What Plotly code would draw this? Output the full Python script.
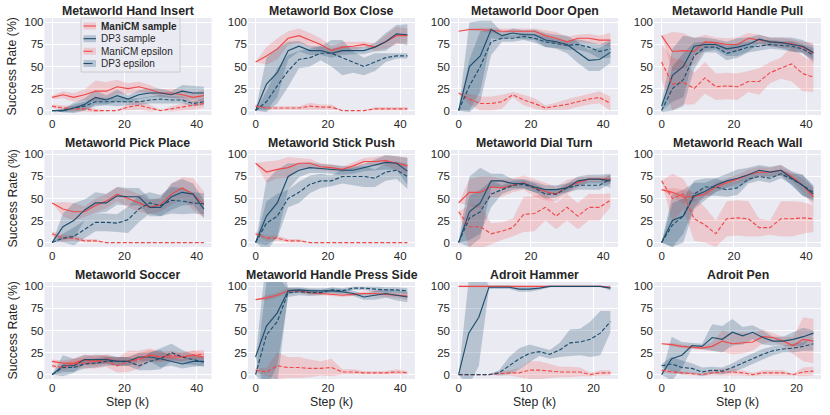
import plotly.graph_objects as go

# ---------------- data ----------------
SERIES = ["ManiCM sample", "DP3 sample", "ManiCM epsilon", "DP3 epsilon"]
steps_mw = [0, 3, 6, 9, 12, 15, 18, 21, 24, 27, 30, 33, 36, 39, 42]
steps_ad = [0, 1.5, 3, 4.5, 6, 7.5, 9, 10.5, 12, 13.5, 15, 16.5, 18, 19.5, 21, 22.5]
y_ticks = [0, 25, 50, 75, 100]

hand_insert = {
    "ManiCM sample": [15, 18, 15, 18, 22, 22, 27, 25, 27, 24, 20, 20, 18, 15, 17],
    "DP3 sample": [0, 0, 3, 7, 15, 12, 17, 13, 18, 20, 20, 18, 22, 20, 20],
    "ManiCM epsilon": [5, 3, 2, 2, 0, 0, 0, 4, 6, 3, 0, 2, 4, 6, 8],
    "DP3 epsilon": [0, 0, 3, 5, 10, 10, 10, 10, 10, 12, 13, 12, 12, 8, 10],
}
hand_insert_sd = {
    "ManiCM sample": [2, 4, 5, 6, 12, 10, 8, 6, 6, 5, 4, 5, 6, 5, 6],
    "DP3 sample": [0, 2, 6, 7, 8, 5, 7, 4, 5, 5, 5, 4, 7, 8, 7],
    "ManiCM epsilon": [2, 3, 3, 3, 2, 0, 0, 4, 5, 4, 0, 3, 4, 5, 5],
    "DP3 epsilon": [0, 2, 4, 5, 5, 4, 5, 4, 4, 4, 5, 4, 4, 3, 4],
}

box_close = {
    "ManiCM sample": [55, 62, 70, 82, 85, 80, 75, 68, 72, 73, 75, 72, 78, 85, 85],
    "DP3 sample": [0, 30, 43, 68, 73, 68, 68, 65, 68, 68, 68, 72, 78, 87, 86],
    "ManiCM epsilon": [5, 3, 3, 3, 3, 5, 4, 4, 0, 0, 0, 2, 2, 2, 2],
    "DP3 epsilon": [0, 10, 28, 45, 58, 60, 65, 65, 60, 55, 50, 55, 60, 62, 62],
}
box_close_sd = {
    "ManiCM sample": [0, 10, 12, 8, 8, 8, 7, 5, 6, 5, 3, 4, 8, 10, 8],
    "DP3 sample": [0, 30, 28, 10, 6, 5, 5, 5, 5, 4, 4, 5, 10, 10, 12],
    "ManiCM epsilon": [2, 2, 2, 2, 2, 4, 3, 3, 0, 0, 0, 2, 2, 2, 2],
    "DP3 epsilon": [0, 12, 20, 18, 10, 10, 8, 15, 20, 12, 10, 10, 5, 3, 3],
}

door_open = {
    "ManiCM sample": [90, 92, 92, 91, 90, 90, 90, 90, 85, 82, 78, 82, 82, 80, 80],
    "DP3 sample": [0, 50, 62, 92, 85, 88, 86, 86, 80, 78, 75, 66, 57, 58, 66],
    "ManiCM epsilon": [20, 13, 8, 8, 10, 18, 12, 8, 3, 5, 7, 10, 13, 15, 8],
    "DP3 epsilon": [0, 28, 50, 78, 82, 82, 84, 82, 78, 76, 74, 75, 72, 67, 70],
}
door_open_sd = {
    "ManiCM sample": [0, 1, 2, 3, 3, 3, 3, 3, 6, 7, 6, 4, 5, 5, 8],
    "DP3 sample": [0, 50, 40, 10, 4, 5, 5, 6, 8, 8, 10, 12, 12, 13, 12],
    "ManiCM epsilon": [0, 6, 8, 8, 8, 3, 6, 6, 3, 4, 6, 6, 6, 7, 8],
    "DP3 epsilon": [0, 30, 40, 15, 4, 4, 4, 5, 6, 5, 5, 6, 6, 8, 10],
}

handle_pull = {
    "ManiCM sample": [85, 67, 68, 67, 78, 77, 75, 75, 82, 80, 78, 77, 76, 72, 65],
    "DP3 sample": [5, 40, 50, 73, 75, 75, 70, 72, 75, 81, 78, 77, 75, 73, 66],
    "ManiCM epsilon": [55, 30, 32, 25, 37, 27, 28, 27, 33, 33, 43, 48, 53, 42, 38],
    "DP3 epsilon": [0, 25, 35, 62, 72, 72, 65, 68, 72, 73, 75, 74, 73, 70, 63],
}
handle_pull_sd = {
    "ManiCM sample": [0, 22, 20, 15, 8, 6, 7, 8, 6, 6, 5, 6, 5, 6, 12],
    "DP3 sample": [5, 30, 35, 10, 8, 6, 8, 10, 8, 5, 5, 6, 8, 7, 8],
    "ManiCM epsilon": [20, 30, 25, 18, 18, 15, 15, 15, 12, 15, 12, 12, 20, 20, 17],
    "DP3 epsilon": [2, 25, 30, 15, 6, 6, 8, 8, 6, 5, 5, 5, 6, 5, 8],
}

pick_place = {
    "ManiCM sample": [45, 38, 35, 35, 42, 47, 55, 50, 45, 40, 43, 55, 62, 55, 43],
    "DP3 sample": [0, 18, 25, 37, 45, 45, 53, 52, 52, 40, 40, 52, 57, 55, 38],
    "ManiCM epsilon": [10, 5, 5, 2, 2, 0, 0, 0, 0, 0, 0, 0, 0, 0, 0],
    "DP3 epsilon": [0, 5, 7, 15, 23, 23, 22, 26, 38, 45, 42, 48, 47, 45, 44],
}
pick_place_sd = {
    "ManiCM sample": [0, 8, 10, 6, 8, 8, 8, 10, 10, 8, 8, 12, 12, 18, 15],
    "DP3 sample": [0, 15, 20, 12, 12, 10, 10, 10, 10, 10, 10, 15, 15, 12, 10],
    "ManiCM epsilon": [3, 4, 3, 2, 2, 0, 0, 0, 0, 0, 0, 0, 0, 0, 0],
    "DP3 epsilon": [0, 5, 10, 10, 10, 10, 10, 15, 15, 12, 12, 15, 15, 12, 12],
}

stick_push = {
    "ManiCM sample": [90, 80, 83, 85, 90, 90, 86, 85, 83, 87, 92, 92, 93, 90, 87],
    "DP3 sample": [0, 30, 45, 75, 82, 85, 84, 83, 82, 82, 85, 88, 91, 90, 81],
    "ManiCM epsilon": [10, 5, 5, 2, 2, 0, 0, 0, 0, 0, 0, 0, 0, 0, 0],
    "DP3 epsilon": [0, 22, 30, 50, 57, 66, 70, 70, 75, 75, 75, 73, 80, 82, 75],
}
stick_push_sd = {
    "ManiCM sample": [0, 12, 10, 12, 6, 5, 4, 4, 3, 4, 4, 5, 6, 8, 10],
    "DP3 sample": [0, 40, 38, 15, 8, 6, 5, 5, 5, 4, 4, 6, 8, 8, 15],
    "ManiCM epsilon": [2, 3, 3, 2, 2, 0, 0, 0, 0, 0, 0, 0, 0, 0, 0],
    "DP3 epsilon": [0, 25, 25, 10, 12, 10, 8, 6, 8, 10, 12, 10, 10, 10, 14],
}

dial_turn = {
    "ManiCM sample": [45, 57, 57, 63, 62, 65, 68, 62, 58, 55, 63, 68, 72, 72, 72],
    "DP3 sample": [0, 35, 45, 70, 70, 67, 67, 63, 60, 60, 62, 70, 72, 72, 70],
    "ManiCM epsilon": [35, 18, 18, 10, 13, 17, 32, 33, 40, 30, 40, 30, 40, 40, 48],
    "DP3 epsilon": [0, 28, 35, 55, 60, 65, 66, 62, 55, 55, 62, 65, 65, 65, 72],
}
dial_turn_sd = {
    "ManiCM sample": [0, 15, 18, 12, 10, 8, 8, 10, 10, 8, 8, 6, 3, 3, 5],
    "DP3 sample": [0, 40, 40, 8, 8, 5, 5, 6, 5, 5, 5, 5, 5, 5, 8],
    "ManiCM epsilon": [0, 25, 25, 12, 10, 10, 20, 20, 15, 15, 15, 15, 15, 15, 8],
    "DP3 epsilon": [0, 25, 25, 15, 5, 5, 5, 5, 5, 4, 5, 5, 5, 5, 5],
}

reach_wall = {
    "ManiCM sample": [60, 57, 52, 52, 55, 63, 68, 72, 77, 80, 80, 82, 75, 65, 52],
    "DP3 sample": [0, 25, 30, 53, 58, 65, 70, 73, 77, 82, 80, 82, 73, 65, 55],
    "ManiCM epsilon": [70, 50, 55, 27, 20, 10, 27, 28, 27, 17, 17, 27, 27, 28, 27],
    "DP3 epsilon": [0, 20, 30, 55, 63, 63, 60, 62, 72, 75, 73, 78, 72, 65, 57],
}
reach_wall_sd = {
    "ManiCM sample": [0, 5, 8, 5, 5, 5, 5, 5, 6, 6, 5, 6, 5, 8, 10],
    "DP3 sample": [0, 30, 30, 15, 10, 8, 8, 10, 8, 6, 6, 6, 8, 12, 8],
    "ManiCM epsilon": [0, 28, 17, 25, 20, 15, 20, 20, 20, 10, 8, 20, 20, 18, 15],
    "DP3 epsilon": [0, 25, 20, 15, 10, 10, 8, 8, 5, 5, 5, 5, 6, 12, 8],
}

soccer = {
    "ManiCM sample": [15, 13, 13, 17, 15, 18, 15, 15, 18, 22, 20, 20, 20, 22, 20],
    "DP3 sample": [0, 10, 10, 17, 17, 17, 15, 15, 20, 20, 18, 15, 12, 15, 15],
    "ManiCM epsilon": [10, 8, 13, 13, 15, 15, 10, 15, 17, 22, 20, 22, 20, 22, 23],
    "DP3 epsilon": [0, 8, 8, 12, 13, 15, 15, 15, 10, 15, 18, 25, 20, 17, 14],
}
soccer_sd = {
    "ManiCM sample": [2, 3, 5, 6, 5, 5, 5, 5, 6, 6, 5, 5, 5, 5, 5],
    "DP3 sample": [0, 12, 8, 5, 5, 5, 5, 5, 5, 5, 10, 5, 5, 6, 5],
    "ManiCM epsilon": [2, 3, 5, 6, 8, 6, 8, 12, 10, 8, 6, 5, 5, 5, 5],
    "DP3 epsilon": [0, 5, 5, 5, 5, 5, 5, 5, 5, 10, 12, 10, 8, 6, 5],
}

handle_press_side = {
    "ManiCM sample": [85, 87, 90, 95, 95, 93, 92, 91, 90, 91, 92, 92, 91, 90, 89],
    "DP3 sample": [20, 55, 70, 95, 96, 95, 95, 95, 94, 92, 88, 90, 92, 90, 88],
    "ManiCM epsilon": [5, 3, 10, 8, 8, 7, 7, 8, 3, 3, 2, 2, 2, 3, 2],
    "DP3 epsilon": [0, 45, 60, 93, 94, 93, 93, 96, 95, 98, 98, 97, 96, 96, 95],
}
handle_press_side_sd = {
    "ManiCM sample": [0, 3, 3, 3, 2, 3, 2, 2, 2, 2, 2, 3, 3, 3, 4],
    "DP3 sample": [0, 80, 80, 4, 3, 3, 3, 3, 3, 3, 3, 5, 5, 6, 6],
    "ManiCM epsilon": [2, 5, 15, 12, 12, 10, 8, 10, 3, 3, 2, 2, 2, 3, 2],
    "DP3 epsilon": [0, 60, 50, 5, 4, 4, 3, 3, 3, 2, 2, 3, 3, 3, 3],
}

adroit_hammer = {
    "ManiCM sample": [100, 100, 100, 100, 100, 100, 100, 100, 100, 100, 100, 100, 100, 100, 100, 99],
    "DP3 sample": [0, 47, 65, 99, 99, 99, 97, 97, 98, 100, 100, 100, 100, 100, 100, 98],
    "ManiCM epsilon": [0, 0, 0, 0, 1, 2, 2, 5, 5, 4, 3, 3, 3, 0, 2, 2],
    "DP3 epsilon": [0, 0, 0, 0, 2, 10, 18, 24, 26, 23, 28, 36, 37, 40, 47, 60],
}
adroit_hammer_sd = {
    "ManiCM sample": [1, 1, 1, 1, 1, 1, 1, 1, 1, 1, 1, 1, 1, 1, 1, 1],
    "DP3 sample": [0, 60, 55, 2, 2, 2, 3, 3, 2, 1, 0, 0, 0, 0, 0, 3],
    "ManiCM epsilon": [0, 0, 0, 0, 2, 3, 5, 10, 10, 8, 6, 6, 5, 2, 3, 3],
    "DP3 epsilon": [0, 0, 0, 0, 3, 10, 12, 10, 5, 5, 8, 15, 15, 20, 25, 12],
}

adroit_pen = {
    "ManiCM sample": [35, 34, 32, 31, 30, 32, 38, 35, 36, 37, 43, 42, 38, 33, 40, 38],
    "DP3 sample": [0, 18, 22, 33, 32, 42, 40, 48, 44, 48, 42, 38, 38, 40, 43, 47],
    "ManiCM epsilon": [5, 3, 2, 1, 0, 2, 3, 3, 2, 0, 2, 2, 2, 0, 3, 4],
    "DP3 epsilon": [10, 12, 8, 7, 3, 5, 4, 8, 13, 18, 23, 27, 29, 30, 32, 35],
}
adroit_pen_sd = {
    "ManiCM sample": [0, 2, 2, 2, 2, 5, 12, 12, 12, 10, 8, 5, 5, 10, 25, 25],
    "DP3 sample": [0, 25, 15, 3, 3, 15, 15, 15, 10, 8, 8, 5, 5, 8, 10, 3],
    "ManiCM epsilon": [2, 2, 2, 2, 1, 3, 4, 4, 3, 2, 3, 3, 3, 1, 5, 5],
    "DP3 epsilon": [2, 8, 8, 6, 5, 4, 4, 5, 6, 6, 6, 5, 4, 5, 5, 8],
}

TASKS = [
    ("Metaworld Hand Insert", steps_mw, hand_insert, hand_insert_sd),
    ("Metaworld Box Close", steps_mw, box_close, box_close_sd),
    ("Metaworld Door Open", steps_mw, door_open, door_open_sd),
    ("Metaworld Handle Pull", steps_mw, handle_pull, handle_pull_sd),
    ("Metaworld Pick Place", steps_mw, pick_place, pick_place_sd),
    ("Metaworld Stick Push", steps_mw, stick_push, stick_push_sd),
    ("Metaworld Dial Turn", steps_mw, dial_turn, dial_turn_sd),
    ("Metaworld Reach Wall", steps_mw, reach_wall, reach_wall_sd),
    ("Metaworld Soccer", steps_mw, soccer, soccer_sd),
    ("Metaworld Handle Press Side", steps_mw, handle_press_side, handle_press_side_sd),
    ("Adroit Hammer", steps_ad, adroit_hammer, adroit_hammer_sd),
    ("Adroit Pen", steps_ad, adroit_pen, adroit_pen_sd),
]

# ---------------- style ----------------
W, H = 830, 415


def px(x):
    return x / W


def py(y):
    return 1 - y / H


RED = "#F04848"
BLUE = "#1E4E6E"
RED_FILL = "rgba(240,72,72,0.2)"
BLUE_FILL = "rgba(30,78,110,0.25)"
DASH = "4px,2px"
STYLE = {
    "ManiCM sample": (RED, RED_FILL, "solid", "<b>ManiCM sample</b>"),
    "DP3 sample": (BLUE, BLUE_FILL, "solid", "DP3 sample"),
    "ManiCM epsilon": (RED, RED_FILL, DASH, "ManiCM epsilon"),
    "DP3 epsilon": (BLUE, BLUE_FILL, DASH, "DP3 epsilon"),
}
FONT = "Liberation Sans, Arial, sans-serif"
TXT = "#262626"
col_left = [44.5, 248, 451, 654]
col_w = 167
row_top = [18, 150, 282]
row_h = 97

fig = go.Figure()
layout = {}
annotations = []
shapes = []

for i, (title, xs, means, sds) in enumerate(TASKS):
    r, c = divmod(i, 4)
    ax = "" if i == 0 else str(i + 1)
    x0 = px(col_left[c])
    x1 = px(col_left[c] + col_w)
    y1 = py(row_top[r])
    y0 = py(row_top[r] + row_h)
    xmax = xs[-1]
    pad = xmax * 0.05
    xt = [0, 20, 40] if xmax > 30 else [0, 10, 20]
    layout["xaxis" + ax] = dict(
        domain=[x0, x1], anchor="y" + ax, range=[-pad, xmax + pad],
        tickvals=xt, showgrid=True, gridcolor="white", gridwidth=1,
        zeroline=False, showline=False, ticks="", automargin=False,
        tickfont=dict(size=11.5, color=TXT, family=FONT),
    )
    layout["yaxis" + ax] = dict(
        domain=[y0, y1], anchor="x" + ax, range=[-5, 105],
        tickvals=y_ticks, showgrid=True, gridcolor="white", gridwidth=1,
        zeroline=False, showline=False, ticks="", automargin=False,
        tickfont=dict(size=11.5, color=TXT, family=FONT),
    )
    for s in SERIES:
        col, fill, dash, label = STYLE[s]
        m = means[s]
        sd = sds[s]
        up = [a + b for a, b in zip(m, sd)]
        lo = [a - b for a, b in zip(m, sd)]
        fig.add_trace(go.Scatter(
            x=list(xs) + list(xs)[::-1], y=up + lo[::-1],
            fill="toself", fillcolor=fill, line=dict(width=0),
            mode="lines", hoverinfo="skip", showlegend=False,
            xaxis="x" + ax, yaxis="y" + ax,
        ))
    for s in SERIES:
        col, fill, dash, label = STYLE[s]
        fig.add_trace(go.Scatter(
            x=xs, y=means[s], mode="lines",
            line=dict(color=col, width=1.15, dash=dash),
            name=s, showlegend=False,
            xaxis="x" + ax, yaxis="y" + ax,
        ))
    annotations.append(dict(
        text="<b>" + title + "</b>", x=(x0 + x1) / 2, y=py(row_top[r] - 7.5),
        xref="paper", yref="paper", xanchor="center", yanchor="middle",
        showarrow=False, font=dict(size=12.3, color=TXT, family=FONT),
    ))
    if c == 0:
        annotations.append(dict(
            text="Success Rate (%)", x=px(12), y=py(row_top[r] + row_h / 2),
            xref="paper", yref="paper", xanchor="center", yanchor="middle",
            textangle=-90, showarrow=False,
            font=dict(size=12.3, color=TXT, family=FONT),
        ))
    if r == 2:
        annotations.append(dict(
            text="Step (k)", x=(x0 + x1) / 2, y=py(402),
            xref="paper", yref="paper", xanchor="center", yanchor="middle",
            showarrow=False, font=dict(size=12.3, color=TXT, family=FONT),
        ))

# ---- legend (drawn in the first panel, matplotlib style) ----
shapes.append(dict(
    type="rect", xref="paper", yref="paper",
    x0=px(81), x1=px(180), y0=py(72), y1=py(18),
    fillcolor="rgba(234,234,242,0.8)", line=dict(color="#CCCCCC", width=1),
    layer="above",
))
leg_rows = [26, 38.7, 51.3, 63.5]
for s, yy in zip(SERIES, leg_rows):
    col, fill, dash, label = STYLE[s]
    shapes.append(dict(
        type="rect", xref="paper", yref="paper",
        x0=px(83.5), x1=px(96), y0=py(yy + 3.5), y1=py(yy - 3.5),
        fillcolor=fill, line=dict(width=0), layer="above",
    ))
    shapes.append(dict(
        type="line", xref="paper", yref="paper",
        x0=px(83.5), x1=px(96), y0=py(yy), y1=py(yy),
        line=dict(color=col, width=1.1, dash="dash" if dash != "solid" else "solid"),
        layer="above",
    ))
    annotations.append(dict(
        text=label, x=px(98.5), y=py(yy), xref="paper", yref="paper",
        xanchor="left", yanchor="middle", showarrow=False,
        font=dict(size=10, color=TXT, family=FONT),
    ))

fig.update_layout(
    width=W, height=H,
    margin=dict(l=0, r=0, t=0, b=0),
    paper_bgcolor="white", plot_bgcolor="#EAEAF2",
    font=dict(family=FONT, color=TXT),
    showlegend=False,
    annotations=annotations,
    shapes=shapes,
    **layout,
)

# remove the default 8px page margin so the figure sits at the window origin
fig.write_html(
    "out.html",
    config={"displayModeBar": False},
    post_script="document.body.style.margin='0';document.body.style.overflow='hidden';",
)
